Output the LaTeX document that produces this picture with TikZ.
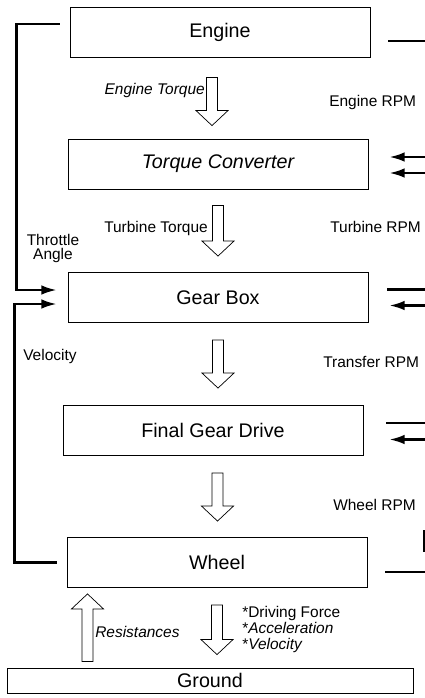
\documentclass[tikz,border=0pt]{standalone}
\usepackage{fontspec}
\setmainfont{Liberation Sans}
\usetikzlibrary{arrows.meta, calc}

% hollow block arrow between two points (shaft at the x of the start)
\newcommand{\fatarrow}[2]{%
  \draw[fat] let \p1=(#1), \p2=(#2), \n1={\y2<\y1 ? 1 : -1} in
    (\x1-3.9pt,\y1) -- (\x1-3.9pt,{\y2+\n1*10.7pt}) -- (\x1-11.4pt,{\y2+\n1*10.7pt})
    -- (\x1,\y2) -- (\x1+11.4pt,{\y2+\n1*10.7pt}) -- (\x1+3.9pt,{\y2+\n1*10.7pt})
    -- (\x1+3.9pt,\y1) -- cycle;}

\begin{document}
\begin{tikzpicture}[
  x=0.025cm, y=-0.025cm,
  every node/.style={inner sep=0pt},
  box/.style={draw, line width=0.6pt, minimum width=7.5cm, minimum height=1.25cm, font=\fontsize{14}{16}\selectfont},
  lbl/.style={font=\fontsize{11}{13}\selectfont},
  lbli/.style={font=\fontsize{11}{13}\selectfont\itshape},
  sig/.style={line width=1.6pt},
  arrow/.style={sig, -{Latex[length=3.8mm,width=2.4mm]}},
  fat/.style={line width=0.5pt, fill=white, line join=miter},
]
\useasboundingbox (0,0) rectangle (425,698);
\coordinate (rim) at (432,0);

\node[box] (engine) at (220,32) {Engine};
\node[box, font=\fontsize{14}{16}\selectfont\itshape] (torque) at (218,164) {Torque Converter};
\node[box] (gearbox) at (218,297.5) {Gear Box};
\node[box] (final) at (213,430.5) {Final Gear Drive};
\node[box] (wheel) at (217,562.5) {Wheel};
\node[box, minimum width=10.15cm, minimum height=0.625cm] (ground) at (210,680.5) {Ground};

\fatarrow{$(engine.south)+(-8,20)$}{$(torque.north)+(-6,-13)$}
\fatarrow{$(torque.south)+(0,16)$}{$(gearbox.north)+(0,-16)$}
\fatarrow{$(gearbox.south)+(0,17)$}{$(final.north)+(5,-17)$}
\fatarrow{$(final.south)+(4.5,17)$}{$(wheel.north)+(0.5,-16)$}
\fatarrow{$(wheel.south)+(0,17)$}{$(ground.north)+(7,-13)$}
\fatarrow{$(ground.north)+(-122.5,-6)$}{$(wheel.south)+(-130,6)$}

\node[lbli, anchor=base east] (etorque) at (205,94) {Engine Torque};
\node[lbl, anchor=base west] (erpm) at (329,106.5) {Engine RPM};
\node[lbl, anchor=base east] (ttorque) at (208,232) {Turbine Torque};
\node[lbl, anchor=base west] (trpm) at (330,232) {Turbine RPM};
\node[lbl, align=center, font=\fontsize{11}{9.8}\selectfont, anchor=north] (throttle) at (53,234) {Throttle\\Angle};
\node[lbl, anchor=base west] (vel) at (23,360) {Velocity};
\node[lbl, anchor=base west] (xrpm) at (323,367) {Transfer RPM};
\node[lbl, anchor=base west] (wrpm) at (333,510) {Wheel RPM};
\node[lbli, anchor=base west] (resist) at (95,637) {Resistances};
\node[lbl, align=left, anchor=north west, font=\fontsize{11}{11.4}\selectfont] (states) at (242,606)
  {*Driving Force\\*\textit{Acceleration}\\*\textit{Velocity}};

% feedback loops on the left
\draw[arrow] ($(engine.west)+(-10,-8)$) -- ++(-43,0) |- ($(gearbox.west)+(-11,-7.5)$);
\draw[arrow] ($(wheel.west)+(-10,0)$) -- ++(-42,0) |- ($(gearbox.west)+(-11,6.5)$);

% signals on the right
\draw[sig] ($(engine.east)+(18,9)$) -- ($(engine.east -| rim)+(0,9)$);
\draw[arrow] ($(torque.east -| rim)+(0,-7)$) -- ($(torque.east)+(21,-7)$);
\draw[arrow] ($(torque.east -| rim)+(0,9)$) -- ($(torque.east)+(21,9)$);
\draw[sig] ($(gearbox.east)+(19,-8)$) -- ($(gearbox.east -| rim)+(0,-8)$);
\draw[arrow] ($(gearbox.east -| rim)+(0,8)$) -- ($(gearbox.east)+(21,8)$);
\draw[sig] ($(final.east)+(23,-7.5)$) -- ($(final.east -| rim)+(0,-7.5)$);
\draw[arrow] ($(final.east -| rim)+(0,9)$) -- ($(final.east)+(26,9)$);
\draw[sig] ($(wheel.east)+(18,9.5)$) -- ($(wheel.east -| rim)+(0,9.5)$);
\draw[sig] ($(wheel.east)+(57,-32.5)$) -- ($(wheel.east)+(57,-10.5)$);
\end{tikzpicture}
\end{document}
